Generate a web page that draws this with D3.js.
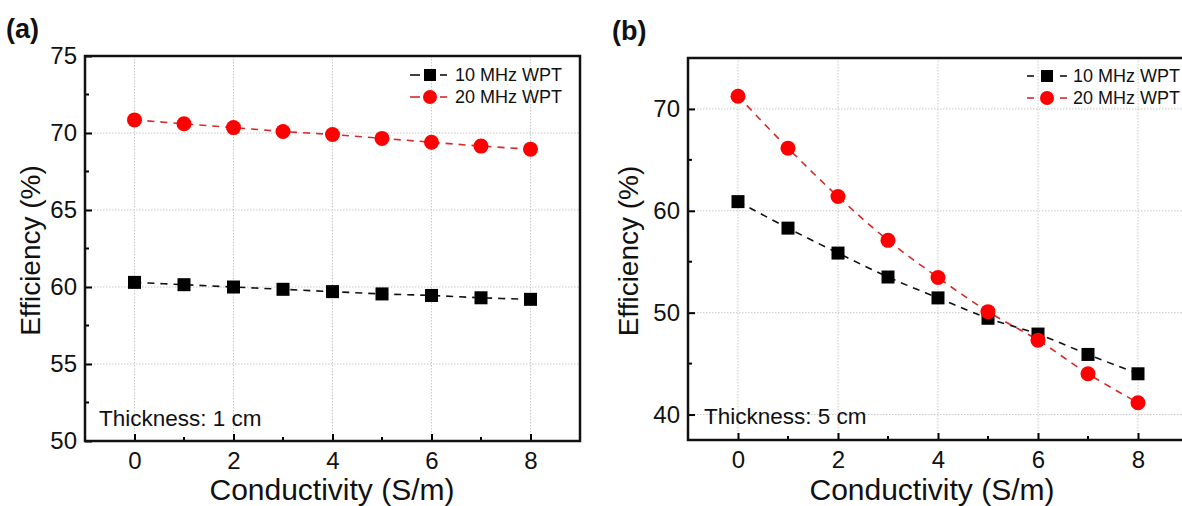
<!DOCTYPE html>
<html>
<head>
<meta charset="utf-8">
<script src="https://cdn.jsdelivr.net/npm/d3@7/dist/d3.min.js"></script>
<style>
    body { margin: 0; background: #fff; }
    svg { display: block; font-family: 'Liberation Sans', Arial, sans-serif; }
</style>
</head>
<body>
<svg id="chart" width="1182" height="506"></svg>
<script>
// conductivity (S/m)
const conductivity = [0, 1, 2, 3, 4, 5, 6, 7, 8]

// panel (a), thickness 1 cm
const eff10a = [60.3, 60.15, 60.0, 59.85, 59.7, 59.55, 59.45, 59.3, 59.2]
const eff20a = [70.85, 70.6, 70.35, 70.1, 69.9, 69.65, 69.4, 69.15, 68.95]

// panel (b), thickness 5 cm
const eff10b = [60.9, 58.3, 55.85, 53.5, 51.45, 49.45, 47.9, 45.9, 44.0]
const eff20b = [71.25, 66.15, 61.4, 57.1, 53.45, 50.1, 47.3, 44.0, 41.15]

const xTicks = [0, 2, 4, 6, 8]
const yTicksA = [50, 55, 60, 65, 70, 75]
const yTicksB = [40, 50, 60, 70]
const seriesNames = ['10 MHz WPT', '20 MHz WPT']

const svg = d3.select('#chart')

const panels = [
    {
        label: '(a)', labelPos: [6, 38],
        left: 85, right: 580, top: 56, bottom: 441,
        yDomain: [50, 75], yTicks: yTicksA, yMinor: [52.5, 57.5, 62.5, 67.5, 72.5],
        s10: eff10a, s20: eff20a, note: 'Thickness: 1 cm', notePos: [99, 426],
        legend: { x1: [410, 420], mark: 430, x2: [440, 447], text: 455, y: [75, 97] },
        titleX: 30, titleXc: 332
    },
    {
        label: '(b)', labelPos: [612, 40],
        left: 688, right: 1188, top: 58, bottom: 440,
        yDomain: [37.5, 75], yTicks: yTicksB, yMinor: [45, 55, 65],
        s10: eff10b, s20: eff20b, note: 'Thickness: 5 cm', notePos: [704, 424],
        legend: { x1: [1027, 1034], mark: 1047, x2: [1060, 1067], text: 1073, y: [76, 98] },
        titleX: 628, titleXc: 932
    }
]

const drawPanel = p => {
    const x = d3.scaleLinear().domain([-1, 9]).range([p.left, p.right])
    const y = d3.scaleLinear().domain(p.yDomain).range([p.bottom, p.top])
    const g = svg.append('g')

    // grid
    g.append('g')
        .selectAll('line')
        .data(xTicks)
        .join('line')
        .attr('x1', d => x(d)).attr('x2', d => x(d))
        .attr('y1', p.top).attr('y2', p.bottom)
        .attr('stroke', '#c8c8c8').attr('stroke-dasharray', '1.5,1.5')
    g.append('g')
        .selectAll('line')
        .data(p.yTicks)
        .join('line')
        .attr('x1', p.left).attr('x2', p.right)
        .attr('y1', d => y(d)).attr('y2', d => y(d))
        .attr('stroke', '#c8c8c8').attr('stroke-dasharray', '1.5,1.5')

    // axes, ticks pointing inward
    const xAxis = g.append('g')
        .attr('transform', `translate(0, ${p.bottom})`)
        .call(d3.axisBottom(x).tickValues(xTicks).tickSizeInner(-7).tickSizeOuter(0).tickPadding(11))
    xAxis.append('g')
        .selectAll('line')
        .data([1, 3, 5, 7])
        .join('line')
        .attr('x1', d => x(d)).attr('x2', d => x(d))
        .attr('y1', 0).attr('y2', -4)
        .attr('stroke', '#000').attr('stroke-width', 2)

    const yAxis = g.append('g')
        .attr('transform', `translate(${p.left}, 0)`)
        .call(d3.axisLeft(y).tickValues(p.yTicks).tickSizeInner(-7).tickSizeOuter(0).tickPadding(8))
    yAxis.append('g')
        .selectAll('line')
        .data(p.yMinor)
        .join('line')
        .attr('y1', d => y(d)).attr('y2', d => y(d))
        .attr('x1', 0).attr('x2', 4)
        .attr('stroke', '#000').attr('stroke-width', 2)

    g.selectAll('.domain').remove()
    g.selectAll('.tick line').attr('stroke', '#000').attr('stroke-width', 2)
    g.selectAll('.tick text')
        .attr('font-size', 24)
        .attr('font-family', "'Liberation Sans', Arial, sans-serif")
        .attr('fill', '#111')

    // frame
    g.append('rect')
        .attr('x', p.left).attr('y', p.top)
        .attr('width', p.right - p.left).attr('height', p.bottom - p.top)
        .attr('fill', 'none').attr('stroke', '#111').attr('stroke-width', 2.5)

    // series
    const line = d3.line()
        .x((d, i) => x(conductivity[i]))
        .y(d => y(d))
        .curve(d3.curveCatmullRom.alpha(0.5))

    g.append('path').datum(p.s10)
        .attr('d', line).attr('fill', 'none')
        .attr('stroke', '#111').attr('stroke-width', 1.6).attr('stroke-dasharray', '7,6')
    g.append('path').datum(p.s20)
        .attr('d', line).attr('fill', 'none')
        .attr('stroke', '#d42a2a').attr('stroke-width', 1.6).attr('stroke-dasharray', '7,6')

    g.append('g')
        .selectAll('rect')
        .data(p.s10)
        .join('rect')
        .attr('x', (d, i) => x(conductivity[i]) - 6.5)
        .attr('y', d => y(d) - 6.5)
        .attr('width', 13).attr('height', 13)
        .attr('fill', '#000')
    g.append('g')
        .selectAll('circle')
        .data(p.s20)
        .join('circle')
        .attr('cx', (d, i) => x(conductivity[i]))
        .attr('cy', d => y(d))
        .attr('r', 7.5)
        .attr('fill', '#ff0000')

    // legend
    const L = p.legend
    const colours = ['#111', '#d42a2a']
    seriesNames.forEach((name, k) => {
        const ly = L.y[k]
        ;[L.x1, L.x2].forEach(seg => {
            g.append('line')
                .attr('x1', seg[0]).attr('x2', seg[1])
                .attr('y1', ly).attr('y2', ly)
                .attr('stroke', colours[k]).attr('stroke-width', 1.6)
        })
        if (k === 0) {
            g.append('rect')
                .attr('x', L.mark - 6).attr('y', ly - 6)
                .attr('width', 12).attr('height', 12).attr('fill', '#000')
        } else {
            g.append('circle')
                .attr('cx', L.mark).attr('cy', ly).attr('r', 7).attr('fill', '#ff0000')
        }
        g.append('text')
            .attr('x', L.text).attr('y', ly)
            .attr('dy', '0.35em')
            .attr('font-size', 18)
            .attr('fill', '#111')
            .text(name)
    })

    // note
    g.append('text')
        .attr('x', p.notePos[0]).attr('y', p.notePos[1])
        .attr('font-size', 22.5)
        .attr('fill', '#111')
        .text(p.note)

    // titles
    g.append('text')
        .attr('x', p.titleXc)
        .attr('y', 500)
        .attr('text-anchor', 'middle')
        .attr('font-size', 30)
        .attr('fill', '#111')
        .text('Conductivity (S/m)')
    g.append('text')
        .attr('transform', `translate(${p.titleX}, ${(p.top + p.bottom) / 2 + 2}) rotate(-90)`)
        .attr('text-anchor', 'middle')
        .attr('dy', '0.35em')
        .attr('font-size', 28)
        .attr('fill', '#111')
        .text('Efficiency (%)')

    g.append('text')
        .attr('x', p.labelPos[0]).attr('y', p.labelPos[1])
        .attr('font-size', 27)
        .attr('font-weight', 'bold')
        .attr('fill', '#111')
        .text(p.label)
}

panels.forEach(drawPanel)
</script>
</body>
</html>
